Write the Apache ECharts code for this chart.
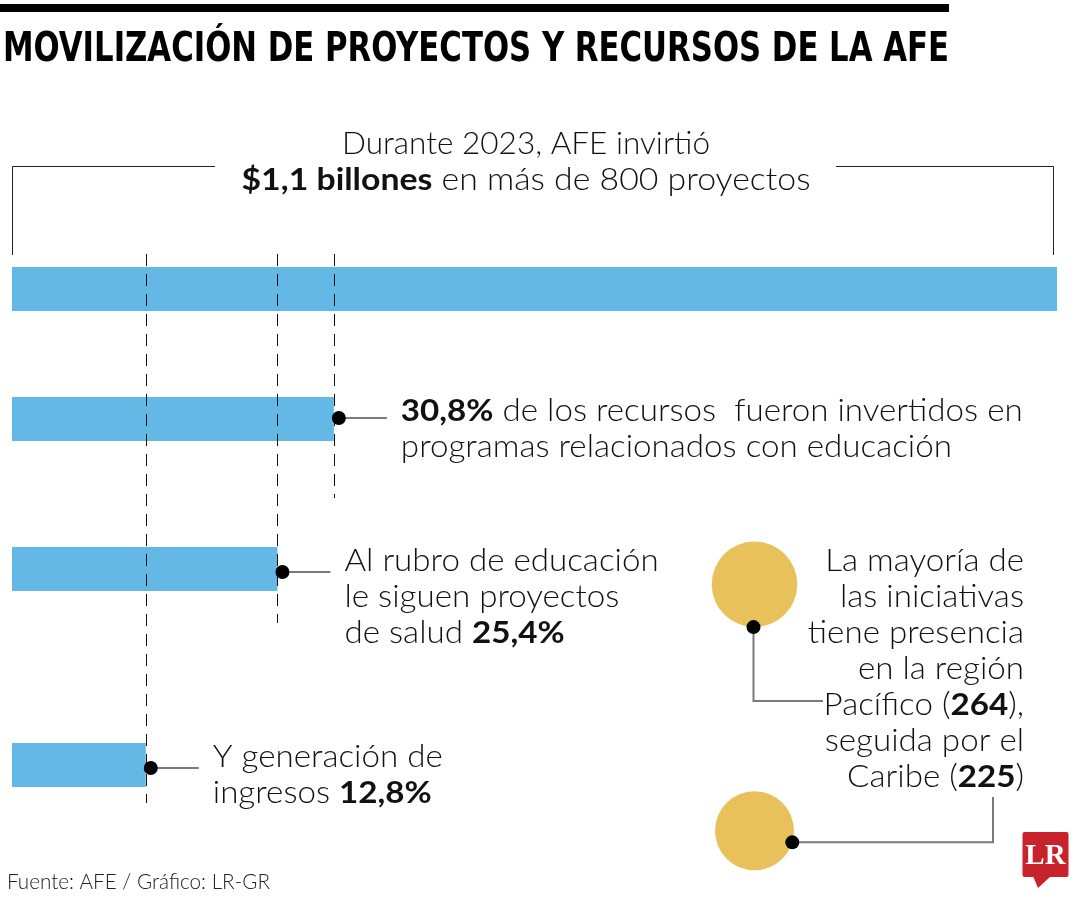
<!DOCTYPE html>
<html><head><meta charset="utf-8">
<script src="https://cdn.jsdelivr.net/npm/echarts@6/dist/echarts.min.js"></script>
<style>html,body{margin:0;padding:0;background:#fff}#c{width:1080px;height:900px}</style>
</head><body><div id="c"></div>
<script>
// ---- data ----
const categories = ['Total', 'Educación', 'Salud', 'Generación de ingresos'];
const shares = [100, 30.8, 25.4, 12.8];
const regions = ['Pacífico', 'Caribe'];
const regionCounts = [264, 225];

// ---- style / layout ----
const BLUE = '#63b8e6', GOLD = '#e8c15b', INK = '#111111', GRAY = '#7a7a7a';
const BODY = 'Lato';
const FW = 300;
const FS = 31;
const barTops = [267, 397, 547, 743];
const BAR_H = 44;

const chart = echarts.init(document.getElementById('c'));

const grids = barTops.map(t => ({left: 12, right: 23, top: t, height: BAR_H}));
grids.push({left: 704, width: 101, top: 584.3, height: 246.5});
const xAxis = barTops.map((_, i) => ({gridIndex: i, type: 'value', min: 0, max: 100, show: false}));
xAxis.push({gridIndex: 4, type: 'value', min: -1, max: 1, show: false});
const yAxis = barTops.map((_, i) => ({gridIndex: i, type: 'category', data: [categories[i]], show: false}));
yAxis.push({gridIndex: 4, type: 'category', data: regions, inverse: true, boundaryGap: false, show: false});

const series = shares.map((v, i) => ({
  type: 'bar', xAxisIndex: i, yAxisIndex: i, data: [v], barWidth: '100%',
  itemStyle: {color: BLUE}, silent: true
}));
const K = 5.268; // diameter per sqrt(count): area-scaled circles
series.push({
  type: 'scatter', xAxisIndex: 4, yAxisIndex: 4,
  data: regions.map((r, i) => [0, r, regionCounts[i]]),
  symbolSize: v => K * Math.sqrt(v[2]),
  itemStyle: {color: GOLD, opacity: 1}, silent: true, z: 1
});

chart.setOption({animation: false, grid: grids, xAxis, yAxis, series});

// ---- measure helpers ----
const ctx = document.createElement('canvas').getContext('2d');
function measure(txt, font) { ctx.font = font; return ctx.measureText(txt).width; }
const bodyScale = 230 / measure('Y generación de', `${FW} ${FS}px ${BODY}`);
const TITLE = 'MOVILIZACIÓN DE PROYECTOS Y RECURSOS DE LA AFE';
const TITLE_FONT = '"Liberation Sans Narrow", "DejaVu Sans Condensed", sans-serif';
const titleScale = 946 / measure(TITLE, `bold 40px ${TITLE_FONT}`);

const rich = {
  n: {fontFamily: BODY, fontSize: FS, fontWeight: FW, fill: INK, lineHeight: 36},
  b: {fontFamily: BODY, fontSize: FS, fontWeight: 'bold', fill: INK, lineHeight: 36}
};
function block(x, y, text, align, sx) {
  return {type: 'text', x, y, scaleX: sx || bodyScale, z: 10,
    style: {text, rich, fontFamily: BODY, fontSize: FS, fill: INK, lineHeight: 36,
      align: align || 'left', verticalAlign: 'top'}};
}

const g = [];
// top rule + title
g.push({type: 'rect', shape: {x: 0, y: 4, width: 949, height: 8}, style: {fill: '#000'}});
g.push({type: 'text', x: 3, y: 51, scaleX: titleScale,
  style: {text: TITLE, font: `bold 40px ${TITLE_FONT}`, fill: '#000', verticalAlign: 'middle'}});

// header bracket
const barL = chart.convertToPixel({seriesIndex: 0}, [0, categories[0]]);
const barR = chart.convertToPixel({seriesIndex: 0}, [shares[0], categories[0]]);
const bx0 = barL[0] + 0.5, bx1 = barR[0] - 3.5;
g.push({type: 'polyline', shape: {points: [[bx0, 255], [bx0, 166.5], [215, 166.5]]}, style: {stroke: '#222', lineWidth: 1, fill: null}});
g.push({type: 'polyline', shape: {points: [[836, 166.5], [bx1, 166.5], [bx1, 255]]}, style: {stroke: '#222', lineWidth: 1, fill: null}});
const head1 = 'Durante 2023, AFE invirtió';
const head1Scale = 368 / measure(head1, `${FW} ${FS}px ${BODY}`);
g.push(block(526, 126, '{n|' + head1 + '}', 'center', head1Scale));
const head2Scale = 569 / (measure('$1,1 billones', `bold ${FS}px ${BODY}`) + measure(' en más de 800 proyectos', `${FW} ${FS}px ${BODY}`));
g.push(block(526, 162, '{b|$1,1 billones}{n| en más de 800 proyectos}', 'center', head2Scale));

// dashed reference lines, dots, connectors, labels
const dashEnds = [0, 498, 623, 803];
const labels = [null,
  '{b|30,8%}{n| de los recursos  fueron invertidos en}\n{n|programas relacionados con educación}',
  '{n|Al rubro de educación}\n{n|le siguen proyectos}\n{n|de salud }{b|25,4%}',
  '{n|Y generación de}\n{n|ingresos }{b|12,8%}'];
for (let i = 1; i < shares.length; i++) {
  const p = chart.convertToPixel({seriesIndex: i}, [shares[i], categories[i]]);
  const x = Math.round(p[0]) + 0.5;
  g.push({type: 'line', z: 5, shape: {x1: x, y1: 254, x2: x, y2: dashEnds[i]},
    style: {stroke: '#111', lineWidth: 1, lineDash: [12, 8]}});
  const dx = p[0] + 5, dy = p[1] + (i === 1 ? -1 : 3);
  g.push({type: 'line', z: 6, shape: {x1: dx, y1: dy, x2: dx + 48, y2: dy}, style: {stroke: GRAY, lineWidth: 2}});
  g.push({type: 'circle', z: 7, shape: {cx: dx, cy: dy, r: 7}, style: {fill: '#000'}});
  const tx = dx + 62;
  g.push(block(tx, p[1] - 26, labels[i]));
}

// circles connectors
const c1 = chart.convertToPixel({seriesIndex: 4}, [0, regions[0]]);
const c2 = chart.convertToPixel({seriesIndex: 4}, [0, regions[1]]);
const r1 = K * Math.sqrt(regionCounts[0]) / 2, r2 = K * Math.sqrt(regionCounts[1]) / 2;
const d1 = [c1[0] - 1, c1[1] + r1];
const ang = 17 * Math.PI / 180;
const d2 = [c2[0] + r2 * Math.cos(ang), c2[1] + r2 * Math.sin(ang)];
g.push({type: 'polyline', z: 6, shape: {points: [d1, [d1[0], 701], [823, 701]]}, style: {stroke: GRAY, lineWidth: 2, fill: null}});
g.push({type: 'polyline', z: 6, shape: {points: [d2, [993, d2[1]], [993, 797]]}, style: {stroke: GRAY, lineWidth: 2, fill: null}});
g.push({type: 'circle', z: 7, shape: {cx: d1[0], cy: d1[1], r: 7}, style: {fill: '#000'}});
g.push({type: 'circle', z: 7, shape: {cx: d2[0], cy: d2[1], r: 7}, style: {fill: '#000'}});
g.push(block(1024, 543,
  '{n|La mayoría de}\n{n|las iniciativas}\n{n|tiene presencia}\n{n|en la región}\n{n|Pacífico (}{b|264}{n|),}\n{n|seguida por el}\n{n|Caribe (}{b|225}{n|)}', 'right'));

// footer
const FOOT = 'Fuente: AFE / Gráfico: LR-GR';
const footScale = 263 / measure(FOOT, `${FW} 22px ${BODY}`);
g.push({type: 'text', x: 7, y: 882, scaleX: footScale, style: {text: FOOT, fontFamily: BODY, fontWeight: FW, fontSize: 22, fill: '#222', verticalAlign: 'middle'}});

// LR logo
g.push({type: 'rect', shape: {x: 1022.5, y: 832, width: 46, height: 45, r: 2}, style: {fill: '#c8232b'}});
g.push({type: 'polygon', shape: {points: [[1033, 876], [1051, 876], [1038, 888]]}, style: {fill: '#c8232b'}});
g.push({type: 'text', x: 1045.5, y: 857, style: {text: 'LR', fontFamily: '"Liberation Serif", "DejaVu Serif", serif', fontWeight: 'bold', fontSize: 29, fill: '#fff', align: 'center', verticalAlign: 'middle'}});

chart.setOption({graphic: {elements: g}});
</script>
</body></html>
